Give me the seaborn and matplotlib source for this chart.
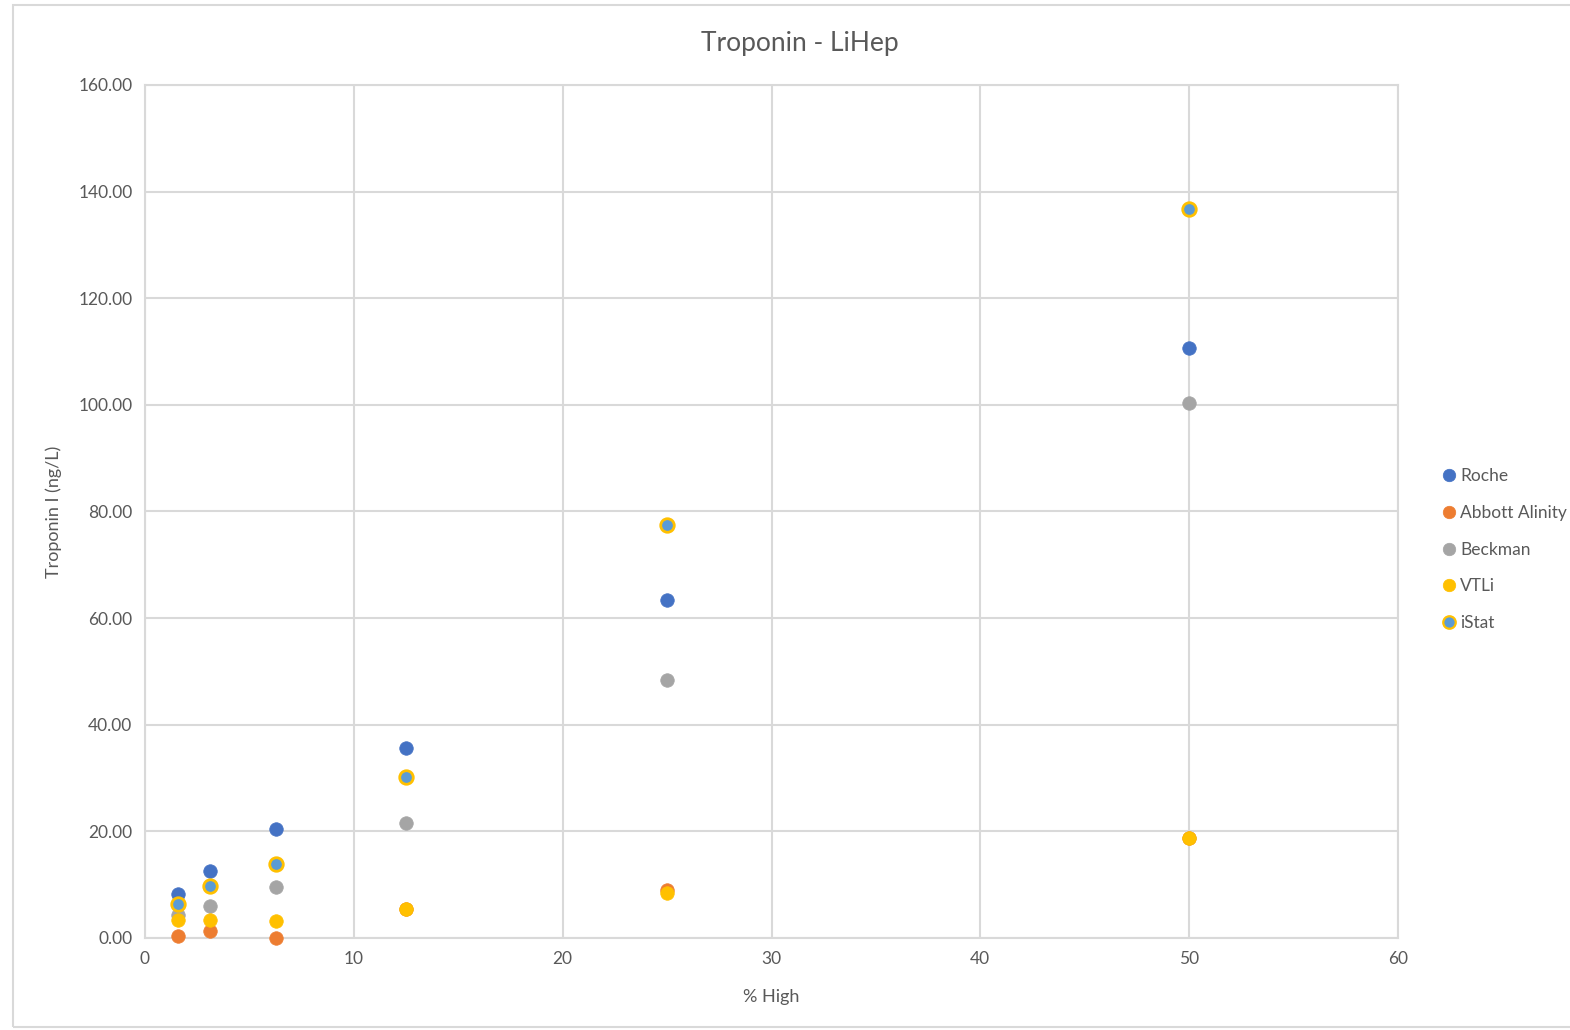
import matplotlib
matplotlib.use("Agg")
import matplotlib.pyplot as plt
import seaborn as sns
import pandas as pd
from matplotlib.lines import Line2D
from matplotlib.patches import Rectangle
from matplotlib.ticker import FormatStrFormatter

pct_high = [1.5625, 3.125, 6.25, 12.5, 25, 50]
roche = [8.2, 12.6, 20.5, 35.6, 63.4, 110.7]
abbott = [0.4, 1.3, 0.0, 5.5, 9.0, 18.8]
beckman = [4.3, 6.0, 9.5, 21.6, 48.4, 100.3]
vtli = [3.4, 3.4, 3.1, 5.5, 8.5, 18.7]
istat = [6.4, 9.75, 13.8, 30.2, 77.5, 136.7]
series_names = ["Roche", "Abbott Alinity", "Beckman", "VTLi", "iStat"]

sns.set_style("white")
plt.rcParams['font.family'] = ['Lato', 'DejaVu Sans']

fig = plt.figure(figsize=(15.7, 10.3), dpi=100)
W, H = 1570, 1030
ax = fig.add_axes([145 / W, 1 - 938 / H, (1398 - 145) / W, (938 - 85) / H])

grid_c = "#D9D9D9"
styles = {
    "Roche": dict(face="#4472C4", edge="#4472C4"),
    "Abbott Alinity": dict(face="#ED7D31", edge="#ED7D31"),
    "Beckman": dict(face="#A5A5A5", edge="#A5A5A5"),
    "VTLi": dict(face="#FFC000", edge="#FFC000"),
    "iStat": dict(face="#5B9BD5", edge="#FFC000"),
}
data = {"Roche": roche, "Abbott Alinity": abbott, "Beckman": beckman,
        "VTLi": vtli, "iStat": istat}

for name in series_names:
    df = pd.DataFrame({"x": pct_high, "y": data[name]})
    st = styles[name]
    lw = 2.0 if name == "iStat" else 0.5
    sns.scatterplot(data=df, x="x", y="y", ax=ax, s=95, color=st["face"],
                    edgecolor=st["edge"], linewidth=lw, zorder=3, clip_on=False)

ax.set_xlim(0, 60)
ax.set_ylim(0, 160)
ax.set_xticks(range(0, 61, 10))
ax.set_yticks(range(0, 161, 20))
ax.yaxis.set_major_formatter(FormatStrFormatter('%.2f'))
ax.grid(True, color=grid_c, linewidth=1.5)
ax.set_axisbelow(True)
for sp in ax.spines.values():
    sp.set_color(grid_c)
    sp.set_linewidth(1.5)
ax.tick_params(axis='both', colors="#595959", labelsize=12.5, length=0, pad=9)
ax.set_xlabel("% High", fontsize=13, color="#595959", labelpad=16)
ax.set_ylabel("Troponin I (ng/L)", fontsize=13, color="#595959", labelpad=12)
fig.text(800 / W, 1 - 43 / H, "Troponin - LiHep", ha="center", va="center",
         fontsize=19, color="#595959")

handles = []
for name in series_names:
    st = styles[name]
    handles.append(Line2D([0], [0], marker="o", linestyle="none", markersize=9,
                          markerfacecolor=st["face"], markeredgecolor=st["edge"],
                          markeredgewidth=1.6 if name == "iStat" else 0.5))
fig.legend(handles, series_names, loc="upper left",
           bbox_to_anchor=(1440 / W, 1 - 468 / H), frameon=False,
           fontsize=12.5, labelcolor="#595959", handletextpad=0.15,
           handlelength=1.0, labelspacing=1.2, borderaxespad=0, borderpad=0)

fig.patches.append(Rectangle((13 / W, 1 - 1027 / H), 1.2, (1027 - 5) / H,
                             transform=fig.transFigure, fill=False,
                             edgecolor=grid_c, linewidth=1.5))

fig.savefig("out.png", dpi=100)
